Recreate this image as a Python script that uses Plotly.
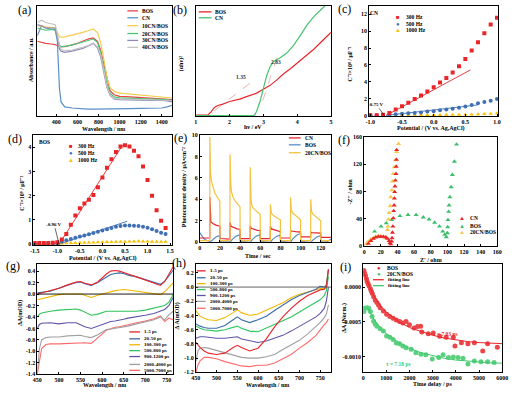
import plotly.graph_objects as go

W, H = 517, 395
FONT = "Liberation Serif"

# ------------------------------------------------------------------ data
# (a) UV-vis absorbance (a.u.)
a_wl = [220, 260, 300, 350, 390, 410, 420, 430, 445, 480, 550, 600, 650, 700, 750,
        790, 820, 850, 880, 910, 950, 1000, 1100, 1200, 1300, 1400, 1450, 1500]
a_names = ["BOS", "CN", "10CN/BOS", "20CN/BOS", "30CN/BOS", "40CN/BOS"]
a_BOS = [68, 67, 66, 65.5, 65, 64, 63.5, 63.2, 63, 63, 64.5, 66, 68, 70, 71,
         68, 60, 47, 33, 23, 19.5, 18, 17.5, 17, 16.5, 16, 15.5, 15]
a_CN = [73, 82, 80, 79, 78, 68, 45, 25, 13, 8.5, 7.5, 7, 6.7, 6.5, 6.5,
        6.5, 6.5, 6.5, 6.5, 6.5, 6.5, 6.6, 7, 7.2, 7.3, 7.5, 8.5, 10]
a_10 = [82, 82, 81, 80.5, 80, 76, 73, 72, 71.8, 72, 73.5, 74.5, 76, 77.5, 79,
        76, 67, 52, 35, 26, 22.5, 21, 20, 19, 18.3, 17.5, 17, 16.7]
a_20 = [80, 79, 78, 78.5, 79, 72, 67, 64.5, 63, 63.3, 64.5, 66, 67.5, 68.7, 70,
        67, 58, 44, 30, 21, 17.5, 16.7, 16.3, 16, 15.8, 15.5, 15, 14]
a_30 = [83, 82, 80, 80, 80, 72, 66, 61, 59, 58, 59, 60, 61.5, 63.5, 66,
        62, 54, 40, 26, 19, 15.5, 15, 14.6, 14.5, 14.4, 14.3, 14, 13]
a_40 = [85, 87, 85, 84, 83, 75, 69, 64, 60.5, 59.5, 60, 61, 62.5, 64, 66.4,
        63, 56, 42, 27, 19.6, 16, 15.7, 15.5, 15.5, 15.3, 15, 14.7, 14.3]
a_colors = ["#E84545", "#5B8FC8", "#F7CB4D", "#4CC477", "#8E88B8", "#C4C4C4"]

# (b) Tauc plot
b_BOS_x = [1.0, 1.35, 1.45, 1.55, 1.65, 1.8, 2.0, 2.3, 2.5, 2.8, 3.0, 3.2, 3.4, 3.5,
           3.6, 3.8, 4.0, 4.2, 4.5, 4.8, 5.0]
b_BOS_y = [1, 1, 4, 8, 9.8, 11, 13.4, 15.5, 17.8, 21, 24.5, 28, 33, 36,
           38.5, 43, 48, 53, 61, 70, 76]
b_CN_x = [1.0, 2.7, 2.75, 2.8, 2.9, 3.0, 3.1, 3.2, 3.3, 3.4, 3.5, 3.7, 3.9, 4.1,
          4.3, 4.5, 4.7, 4.82]
b_CN_y = [0.6, 0.6, 1.5, 4.5, 13.4, 25, 37, 45, 49.5, 51.5, 53, 57.5, 64.5, 73.5,
          83, 90.5, 96.5, 100]
b_tan_BOS_x = [1.55, 2.6]
b_tan_BOS_y = [5, 30]
b_tan_CN_x = [2.98, 3.42]
b_tan_CN_y = [14, 55]
b_gaps = ["1.35", "2.83"]

# (c) Mott-Schottky CN
c_pot = [-1.0, -0.9, -0.8, -0.7, -0.6, -0.5, -0.4, -0.3, -0.2, -0.1, 0.0,
         0.1, 0.2, 0.3, 0.4, 0.5, 0.6, 0.7, 0.8, 0.9, 1.0]
c_300 = [0.02, 0.03, 0.08, 0.3, 0.7, 1.1, 1.5, 1.95, 2.35, 2.85, 3.35,
         3.9, 4.45, 5.1, 5.85, 6.7, 7.7, 8.7, 9.75, 10.8, 11.6]
c_500 = [0.02, 0.03, 0.05, 0.1, 0.15, 0.2, 0.25, 0.3, 0.35, 0.45, 0.5,
         0.6, 0.7, 0.8, 0.9, 1.05, 1.25, 1.45, 1.6, 1.75, 1.95]
c_1000 = [0.0, 0.0, 0.01, 0.01, 0.02, 0.02, 0.03, 0.03, 0.04, 0.04, 0.05,
          0.06, 0.07, 0.08, 0.09, 0.1, 0.12, 0.15, 0.18, 0.21, 0.25]
c_fit300_x = [-0.75, 0.58]
c_fit300_y = [0.0, 5.4]
c_fit500_x = [-0.75, 0.7]
c_fit500_y = [0.0, 1.25]
c_freqs = ["300 Hz", "500 Hz", "1000 Hz"]

# (d) Mott-Schottky BOS
d_pot = [-1.5, -1.4, -1.3, -1.2, -1.1, -1.0, -0.9, -0.8, -0.7, -0.6, -0.5, -0.4, -0.3,
         -0.2, -0.1, 0.0, 0.1, 0.2, 0.3, 0.4, 0.5, 0.6, 0.7, 0.8, 0.9, 1.0, 1.1,
         1.2, 1.3, 1.4]
d_300 = [0.05, 0.05, 0.05, 0.05, 0.06, 0.08, 0.2, 0.42, 0.8, 1.18, 1.48, 1.68, 1.83,
         2.03, 2.35, 2.75, 3.15, 3.5, 3.8, 4.03, 4.08, 4.03, 3.85, 3.62, 3.2, 2.65, 2.0,
         1.4, 0.97, 0.67]
d_500 = [0.02, 0.02, 0.02, 0.02, 0.03, 0.04, 0.1, 0.17, 0.22, 0.27, 0.32, 0.36, 0.41,
         0.46, 0.52, 0.57, 0.62, 0.67, 0.72, 0.75, 0.77, 0.77, 0.76, 0.75, 0.72, 0.68, 0.62,
         0.55, 0.48, 0.42]
d_1000 = [0.02, 0.02, 0.02, 0.02, 0.02, 0.02, 0.03, 0.04, 0.05, 0.05, 0.06, 0.06, 0.07,
          0.07, 0.08, 0.08, 0.09, 0.09, 0.1, 0.1, 0.1, 0.11, 0.11, 0.12, 0.11, 0.11, 0.1,
          0.1, 0.1, 0.1]
d_fit300_x = [-0.96, 0.45]
d_fit300_y = [0.0, 4.09]
d_fit500_x = [-0.96, 0.55]
d_fit500_y = [0.0, 0.95]

# (e) photocurrent
e_CN_t = [0, 9.9, 10, 10.3, 11, 13, 16, 19.9, 20, 29.9, 30, 31, 34, 37, 39.9, 40, 49.9,
          50, 51, 54, 57, 59.9, 60, 69.9, 70, 71, 74, 77, 79.9, 80, 89.9, 90, 91, 95,
          99.9, 100, 109.9, 110, 111, 115, 119.9, 120, 130]
e_CN_v = [0.4, 0.4, 4.2, 2.4, 1.9, 1.75, 1.6, 1.5, 0.35, 0.3, 1.85, 1.5, 1.35, 1.25, 1.2,
          0.35, 0.35, 1.55, 1.3, 1.2, 1.12, 1.1, 0.35, 0.35, 1.5, 1.25, 1.15, 1.05, 1.0,
          0.4, 0.4, 1.1, 1.05, 1.0, 0.95, 0.5, 0.5, 0.95, 0.9, 0.88, 0.85, 0.45, 0.45]
e_BOS_t = [0, 2, 4, 6, 9.9, 10, 12, 14, 16, 18, 19.9, 20, 22, 29.9, 30, 32, 34, 36, 38,
           39.9, 40, 49.9, 50, 52, 54, 56, 58, 59.9, 60, 69.9, 70, 72, 74, 76, 78, 79.9,
           80, 89.9, 90, 92, 94, 96, 98, 99.9, 100, 109.9, 110, 112, 114, 116, 118,
           119.9, 120, 126, 128, 130]
e_BOS_v = [0.9, 0.6, 0.35, 0.2, 0.1, 0.0, 0.2, 0.38, 0.5, 0.57, 0.6, 0.1, 0.05, 0.05,
           0.0, 0.25, 0.45, 0.58, 0.65, 0.7, 0.1, 0.05, 0.0, 0.25, 0.45, 0.58, 0.65, 0.7,
           0.1, 0.05, 0.0, 0.25, 0.42, 0.55, 0.62, 0.65, 0.1, 0.05, 0.0, 0.3, 0.5, 0.65,
           0.75, 0.8, 0.1, 0.05, 0.0, 0.2, 0.38, 0.5, 0.55, 0.6, 0.05, 0.05, 0.15, 0.3]
e_CB_t = [0, 9.9, 10, 10.3, 10.7, 11.5, 13, 15, 17.5, 19.9, 20, 29.9, 30, 30.3, 30.8,
          31.5, 33, 35, 37.5, 39.9, 40, 49.9, 50, 50.3, 50.8, 51.5, 53, 55, 57.5, 59.9,
          60, 69.9, 70, 70.4, 71, 73, 76, 79.9, 80, 89.9, 90, 90.3, 90.8, 92, 95, 97.5,
          99.9, 100, 109.9, 110, 110.3, 110.8, 112, 115, 117.5, 119.9, 120, 130]
e_CB_v = [0.15, 0.15, 9.8, 7.8, 6.5, 5.7, 5.1, 4.6, 4.2, 3.8, 0.15, 0.15, 8.2, 6.3, 5.3,
          4.7, 4.2, 3.85, 3.55, 3.3, 0.15, 0.15, 7.0, 5.0, 4.0, 3.5, 3.2, 3.0, 2.8, 2.6,
          0.15, 0.15, 3.55, 3.0, 2.7, 2.5, 2.3, 2.1, 0.15, 0.15, 4.2, 3.4, 3.0, 2.75, 2.5,
          2.3, 2.1, 0.15, 0.15, 4.0, 3.3, 2.9, 2.65, 2.4, 2.25, 2.0, 0.15, 0.15]

# (f) Nyquist
f_CN_x = [5, 8, 11, 14, 17, 20, 23, 26, 28, 30, 31, 32, 33, 33.5, 34, 34.5, 35, 35.5,
          36, 36.3, 36.7, 37, 37.5, 38.2]
f_CN_y = [4, 8, 11, 13, 14, 14, 14, 13, 11, 8, 5, 3, 7, 12, 20, 29, 41, 51.6,
          60, 69.9, 79.5, 87.7, 96.4, 106]
f_CN_x2 = [38.5, 38.8, 39]
f_CN_y2 = [116.6, 126.7, 141]
f_BOS_x = [12.5, 20.3, 26.5, 33, 43, 52.7, 62.4, 71, 78, 84.7, 90.5, 94.4, 96.8, 98.7,
           100, 100.4, 100.7, 101.5, 102, 103, 104.6, 106, 108.5, 111]
f_BOS_y = [21.7, 29, 33.7, 38.5, 44.3, 46, 45.8, 42.4, 39.5, 34.7, 29, 21.7, 16.9, 13.5,
           19.3, 28, 38.5, 50.6, 60, 72, 86.7, 104.6, 124, 149]
f_CB_x = [2, 5, 8, 11, 14, 17, 20, 23, 25, 27.3, 28, 28.5, 29.3, 30, 31.2, 32, 33.2,
          34, 35, 36, 37.5, 39, 41.4]
f_CB_y = [3, 7, 10, 12, 14, 15, 15, 14, 13, 12, 24, 29, 39.5, 49, 58.8, 72, 82,
          95, 106, 115.7, 126, 138, 150]
f_names = ["CN", "BOS", "20CN/BOS"]

# (g) TA spectra BOS
g_wl = [450, 455, 460, 470, 480, 500, 520, 540, 550, 560, 575, 590, 600, 610, 620,
        630, 640, 650, 660, 680, 700, 720, 735, 745, 755, 765]
g_1 = [0.0, 0.01, 0.02, 0.03, 0.05, 0.1, 0.16, 0.21, 0.22, 0.19, 0.16, 0.21, 0.28, 0.35,
       0.4, 0.41, 0.4, 0.38, 0.35, 0.3, 0.25, 0.19, 0.15, 0.22, 0.36, 0.48]
g_2 = [0.02, 0.02, 0.03, 0.04, 0.05, 0.1, 0.15, 0.2, 0.21, 0.18, 0.15, 0.2, 0.25, 0.3,
       0.34, 0.36, 0.37, 0.36, 0.33, 0.3, 0.25, 0.2, 0.17, 0.22, 0.32, 0.42]
g_3 = [-0.1, -0.09, -0.08, -0.06, -0.04, -0.01, 0.0, 0.0, 0.0, -0.02, -0.06, -0.02, 0.0,
       0.03, 0.05, 0.06, 0.07, 0.08, 0.07, 0.05, 0.03, 0.01, -0.01, 0.04, 0.12, 0.2]
g_4 = [-0.4, -0.35, -0.33, -0.31, -0.3, -0.28, -0.27, -0.26, -0.28, -0.32, -0.37, -0.35,
       -0.33, -0.3, -0.3, -0.3, -0.3, -0.3, -0.31, -0.3, -0.28, -0.25, -0.22, -0.2, -0.14, 0.0]
g_5 = [-0.6, -0.53, -0.51, -0.5, -0.5, -0.52, -0.5, -0.5, -0.53, -0.57, -0.6, -0.56, -0.53,
       -0.5, -0.48, -0.47, -0.46, -0.44, -0.42, -0.4, -0.37, -0.34, -0.3, -0.27, -0.2, -0.05]
g_6 = [-1.4, -0.95, -0.8, -0.76, -0.75, -0.75, -0.73, -0.72, -0.72, -0.74, -0.76, -0.71,
       -0.67, -0.62, -0.61, -0.6, -0.59, -0.58, -0.56, -0.52, -0.49, -0.45, -0.4, -0.45,
       -0.36, -0.3]
g_7 = [-1.4, -1.15, -0.95, -0.88, -0.87, -0.87, -0.86, -0.85, -0.85, -0.85, -0.86, -0.77,
       -0.7, -0.63, -0.6, -0.58, -0.57, -0.55, -0.53, -0.5, -0.47, -0.43, -0.38, -0.48,
       -0.42, -0.45]

# (h) TA spectra 20CN/BOS
h_wl = [450, 455, 460, 470, 480, 500, 520, 540, 550, 560, 580, 600, 620, 640, 660, 680,
        700, 720, 740, 750, 760, 765, 770]
h_1 = [-0.78, -0.82, -0.85, -0.9, -0.93, -0.95, -0.93, -0.85, -0.82, -0.85, -0.9, -0.86,
       -0.73, -0.56, -0.42, -0.3, -0.2, -0.12, -0.06, -0.04, -0.03, 0.0, 0.25]
h_2 = [-0.52, -0.54, -0.55, -0.57, -0.58, -0.58, -0.54, -0.46, -0.42, -0.46, -0.5, -0.46,
       -0.41, -0.33, -0.25, -0.18, -0.12, -0.07, -0.03, 0.01, 0.0, 0.03, 0.25]
h_3 = [-0.33, -0.38, -0.41, -0.44, -0.46, -0.47, -0.43, -0.36, -0.32, -0.36, -0.4, -0.38,
       -0.33, -0.28, -0.22, -0.15, -0.1, -0.07, -0.04, -0.02, -0.02, 0.02, 0.25]
h_4 = [-0.55, -0.57, -0.58, -0.6, -0.61, -0.62, -0.6, -0.56, -0.55, -0.58, -0.62, -0.63,
       -0.58, -0.53, -0.48, -0.42, -0.35, -0.28, -0.22, -0.18, -0.12, -0.05, 0.15]
h_5 = [-0.72, -0.71, -0.7, -0.7, -0.71, -0.72, -0.72, -0.71, -0.7, -0.73, -0.76, -0.78,
       -0.76, -0.72, -0.68, -0.62, -0.55, -0.48, -0.42, -0.37, -0.3, -0.2, 0.0]
h_6 = [-1.05, -0.9, -0.86, -0.85, -0.86, -0.89, -0.92, -0.95, -0.97, -0.99, -1.0, -1.0,
       -0.98, -0.95, -0.88, -0.82, -0.75, -0.66, -0.56, -0.5, -0.43, -0.38, -0.25]
h_7 = [-1.2, -1.1, -1.04, -0.99, -0.99, -1.01, -1.05, -1.08, -1.1, -1.11, -1.12, -1.1,
       -1.1, -1.07, -1.01, -0.95, -0.86, -0.78, -0.68, -0.6, -0.53, -0.5, -0.45]
ta_names = ["1-5 ps", "20-50 ps", "100-300 ps", "500-800 ps", "900-1200 ps",
            "2000-4000 ps", "5000-7000 ps"]
ta_colors = ["#E8262A", "#3D6DA8", "#F2B800", "#2FC55E", "#5D55A8", "#A0A0A0", "#FF6B6B"]

# (i) kinetics (values in 1e-4 units)
i_BOS_t = [28, 56, 98, 140, 169, 211, 253, 309, 351, 393, 450, 520, 590, 660, 730, 870,
           1010, 1150, 1290, 1430, 1570, 1710, 1850, 1995, 2200, 2345, 2480, 2530, 2810,
           3020, 3300, 3580, 3890, 3960, 4240, 4520, 4800, 5160, 5370, 5790]
i_BOS_v = [2.35, 2.0, 1.64, 1.17, 0.8, 0.47, 0.14, -0.23, -0.6, -0.94, -1.4, -1.88, -2.2,
           -2.58, -2.96, -3.43, -3.9, -4.2, -4.46, -4.7, -4.93, -5.16, -4.93, -5.4, -5.87,
           -5.63, -5.6, -6.43, -6.7, -6.57, -7.04, -7.18, -7.18, -8.45, -7.98, -8.12, -7.98,
           -9.15, -8.12, -8.6]
i_CB_t = [28, 60, 169, 239, 309, 380, 450, 520, 590, 730, 870, 1010, 1150, 1290, 1430,
          1570, 1710, 1850, 2070, 2275, 2490, 2700, 2980, 3260, 3450, 3680, 3890, 4100,
          4310, 4520, 4800, 5080, 5370, 5650]
i_CB_v = [-3.5, -3.05, -2.96, -3.05, -3.5, -4.2, -4.9, -5.3, -5.6, -5.96, -6.3, -7.0,
          -7.2, -7.5, -8.0, -8.1, -8.45, -8.7, -8.9, -9.4, -9.6, -9.7, -10.3, -10.1, -9.7,
          -10.1, -10.0, -10.1, -10.2, -11.0, -10.6, -10.7, -10.7, -10.8]
i_fitB_t = [0, 250, 500, 750, 1000, 1500, 2000, 2500, 3000, 3500, 4000, 4500, 5000, 5500, 6000]
i_fitB_v = [2.3, 0.2, -1.5, -2.7, -3.6, -4.9, -5.8, -6.4, -6.9, -7.3, -7.6, -7.8, -7.95,
            -8.05, -8.1]
i_fitC_t = [200, 500, 750, 1000, 1500, 2000, 2500, 3000, 3500, 4000, 4500, 5000, 5500, 6000]
i_fitC_v = [-3.0, -4.8, -5.9, -6.7, -7.9, -8.8, -9.4, -9.85, -10.2, -10.45, -10.6, -10.75,
            -10.85, -10.9]
i_tau = ["τ = 7.03 ps", "τ = 7.18 ps"]

RED = "#E8262A"
BLUE = "#3F6FB5"
YEL = "#F5C000"
GREEN = "#3DBE6A"

# ------------------------------------------------------------------ layout helpers
def px_x(p):
    return p / W


def px_y(p):
    return 1 - p / H


BOX = {
    1: (33, 171, 3, 115),
    2: (195, 333, 3, 115),
    3: (372, 504, 3, 115),
    4: (29, 171, 134, 246),
    5: (199, 333, 134, 243),
    6: (367, 503, 136, 247),
    7: (33, 172, 265, 377),
    8: (195, 333, 265, 375),
    9: (366, 508, 265, 375),
}

TICKFONT = dict(family=FONT, size=6, color="black", weight="bold")
layout = dict(width=W, height=H, margin=dict(l=0, r=0, t=0, b=0),
              paper_bgcolor="white", plot_bgcolor="white", showlegend=False,
              font=dict(family=FONT, size=6, color="black"))
annotations = []
shapes = []
fig = go.Figure()


def sfx(k):
    return "" if k == 1 else str(k)


def axes(k, xr, yr, xtv=None, xtt=None, ytv=None, ytt=None, yticks=True):
    l, r, t, b = BOX[k]
    common = dict(showline=True, linecolor="black", linewidth=0.8, mirror=True,
                  ticks="inside", ticklen=2, tickwidth=0.7, tickcolor="black",
                  showgrid=False, zeroline=False, tickfont=TICKFONT)
    xa = dict(domain=[px_x(l), px_x(r)], range=xr, anchor="y" + sfx(k), **common)
    if xtv is not None:
        xa.update(tickmode="array", tickvals=xtv, ticktext=xtt)
    ya = dict(domain=[px_y(b), px_y(t)], range=yr, anchor="x" + sfx(k), **common)
    if ytv is not None:
        ya.update(tickmode="array", tickvals=ytv, ticktext=ytt)
    if not yticks:
        ya.update(showticklabels=False, ticks="")
    layout["xaxis" + sfx(k)] = xa
    layout["yaxis" + sfx(k)] = ya


def tr(k, x, y, **kw):
    fig.add_trace(go.Scatter(x=x, y=y, xaxis="x" + sfx(k), yaxis="y" + sfx(k), **kw))


def line(k, x, y, color, width=1.1, dash=None):
    tr(k, x, y, mode="lines", line=dict(color=color, width=width, dash=dash))


def marks(k, x, y, color, symbol, size=4, opacity=1.0):
    tr(k, x, y, mode="markers", opacity=opacity,
       marker=dict(color=color, symbol=symbol, size=size, line=dict(width=0)))


def txt(xp, yp, s, size=6, color="black", bold=True, angle=0, xanchor="center"):
    annotations.append(dict(x=px_x(xp), y=px_y(yp), xref="paper", yref="paper", text=s,
                            showarrow=False, xanchor=xanchor, yanchor="middle",
                            textangle=angle,
                            font=dict(family=FONT, size=size, color=color,
                                      weight="bold" if bold else "normal")))


def leg_line(x0, y, s, color, length=10, size=5.5, width=1.3):
    shapes.append(dict(type="line", xref="paper", yref="paper", x0=px_x(x0), x1=px_x(x0 + length),
                       y0=px_y(y), y1=px_y(y), line=dict(color=color, width=width)))
    txt(x0 + length + 2, y, s, size=size, xanchor="left")


def leg_mark(xc, y, s, color, glyph, size=5.5, gsize=6):
    txt(xc, y, glyph, size=gsize, color=color, bold=False)
    txt(xc + 6, y, s, size=size, xanchor="left")


def panel_label(xp, yp, s):
    txt(xp, yp, s, size=12, bold=False)


# ------------------------------------------------------------------ (a)
axes(1, [220, 1500], [0, 100], xtv=[400, 600, 800, 1000, 1200, 1400],
     xtt=["400", "600", "800", "1000", "1200", "1400"], yticks=False)
for ys, c in zip([a_BOS, a_CN, a_10, a_20, a_30, a_40], a_colors):
    line(1, a_wl, ys, c, width=1.2)
for i, (n, c) in enumerate(zip(a_names, a_colors)):
    leg_line(125, [8, 15, 23, 31, 38, 45][i], n, c, length=11)
txt(26.5, 57, "Absorbance / a.u.", angle=-90)
txt(101, 128, "Wavelength / nm")
panel_label(20, 7, "(a)")

# ------------------------------------------------------------------ (b)
axes(2, [1, 5], [0, 100], xtv=[1, 2, 3, 4, 5], xtt=["1", "2", "3", "4", "5"], yticks=False)
line(2, b_tan_BOS_x, b_tan_BOS_y, "#F2A0A0", width=0.9, dash="dash")
line(2, b_tan_CN_x, b_tan_CN_y, "#E8B0B0", width=0.9, dash="dash")
line(2, b_BOS_x, b_BOS_y, RED, width=1.2)
line(2, b_CN_x, b_CN_y, "#46C46E", width=1.2)
leg_line(198, 9, "BOS", RED, length=13)
leg_line(198, 15, "CN", "#46C46E", length=13)
annotations.append(dict(x=2.33, y=35.6, xref="x2", yref="y2", text=b_gaps[0], showarrow=False,
                        font=dict(family=FONT, size=5.5, color="#333333", weight="bold")))
annotations.append(dict(x=3.36, y=49, xref="x2", yref="y2", text=b_gaps[1], showarrow=False,
                        font=dict(family=FONT, size=5.5, color="#333333", weight="bold")))
txt(180, 62, "(αhν)²", angle=-90)
txt(253, 126, "hν / eV")
panel_label(179, 7, "(b)")

# ------------------------------------------------------------------ (c)
axes(3, [-1.02, 1.02], [-0.1, 13], xtv=[-1, -0.5, 0, 0.5, 1],
     xtt=["-1.0", "-0.5", "0.0", "0.5", "1.0"], ytv=[0, 2, 4, 6, 8, 10, 12],
     ytt=["0", "2", "4", "6", "8", "10", "12"])
line(3, c_fit300_x, c_fit300_y, RED, width=0.9)
line(3, c_fit500_x, c_fit500_y, BLUE, width=0.9)
marks(3, c_pot, c_1000, YEL, "triangle-up", size=4)
marks(3, c_pot, c_500, BLUE, "circle", size=4)
marks(3, c_pot, c_300, RED, "square", size=4)
txt(377, 10, "CN", size=5.5)
leg_mark(402, 14, c_freqs[0], RED, "■")
leg_mark(402, 21, c_freqs[1], BLUE, "●")
leg_mark(402, 27, c_freqs[2], YEL, "▲")
annotations.append(dict(x=-0.78, y=0, xref="x3", yref="y3", text="-0.75 V", showarrow=True,
                        arrowhead=0, arrowwidth=0.6, arrowcolor="black", ax=-8, ay=-11,
                        font=dict(family=FONT, size=5, color="black", weight="bold")))
txt(353, 62, "C⁻²×10⁸ / μF⁻²", angle=-90)
txt(435, 127, "Potential / (V vs. Ag,AgCl)")
panel_label(347, 6, "(c)")

# ------------------------------------------------------------------ (d)
axes(4, [-1.53, 1.55], [-0.04, 4.5], xtv=[-1.5, -1.0, -0.5, 0, 0.5, 1.0, 1.5],
     xtt=["-1.5", "-1.0", "-0.5", "0.0", "0.5", "1.0", "1.5"], ytv=[0, 1, 2, 3, 4],
     ytt=["0", "1", "2", "3", "4"])
line(4, d_fit300_x, d_fit300_y, RED, width=0.9)
line(4, d_fit500_x, d_fit500_y, BLUE, width=0.9)
marks(4, d_pot, d_1000, YEL, "triangle-up", size=4)
marks(4, d_pot, d_500, BLUE, "circle", size=4)
marks(4, d_pot, d_300, RED, "square", size=4)
txt(40, 141, "BOS", size=5.5)
leg_mark(67, 145, c_freqs[0], RED, "■")
leg_mark(67, 152, c_freqs[1], BLUE, "●")
leg_mark(67, 159, c_freqs[2], YEL, "▲")
annotations.append(dict(x=-0.96, y=0, xref="x4", yref="y4", text="-0.96 V", showarrow=True,
                        arrowhead=0, arrowwidth=0.6, arrowcolor="black", ax=-5, ay=-20,
                        font=dict(family=FONT, size=5, color="black", weight="bold")))
txt(17, 193, "C⁻²×10⁹ / μF⁻²", angle=-90)
txt(100, 259, "Potential / (V vs. Ag,AgCl)")
panel_label(10, 138, "(d)")

# ------------------------------------------------------------------ (e)
axes(5, [0, 130], [0, 10], xtv=[0, 20, 40, 60, 80, 100, 120],
     xtt=["0", "20", "40", "60", "80", "100", "120"], ytv=[0, 2, 4, 6, 8, 10],
     ytt=["0", "2", "4", "6", "8", "10"])
line(5, e_BOS_t, e_BOS_v, "#5B8FC8", width=1.2)
line(5, e_CN_t, e_CN_v, RED, width=1.2)
line(5, e_CB_t, e_CB_v, "#F5C242", width=1.2)
leg_line(290, 137, "CN", RED, length=12)
leg_line(290, 144, "BOS", "#5B8FC8", length=12)
leg_line(290, 152, "20CN/BOS", "#F5C242", length=12)
txt(183, 187, "Photocurrent density / μA•cm⁻²", angle=-90)
txt(258, 257, "Time / sec")
panel_label(179, 137, "(e)")

# ------------------------------------------------------------------ (f)
axes(6, [0, 160], [0, 160], xtv=[0, 20, 40, 60, 80, 100, 120, 140, 160],
     xtt=["0", "20", "40", "60", "80", "100", "120", "140", "160"],
     ytv=[0, 40, 80, 120, 160], ytt=["0", "40", "80", "120", "160"])
marks(6, f_BOS_x, f_BOS_y, "#3DBE6A", "triangle-up", size=4.5)
marks(6, f_CB_x, f_CB_y, "#F7C948", "triangle-up", size=4.5)
marks(6, f_CN_x, f_CN_y, RED, "triangle-up", size=4.5)
marks(6, f_CN_x2, f_CN_y2, RED, "triangle-up", size=4.5)
leg_mark(467, 218, f_names[0], RED, "▲")
leg_mark(467, 226, f_names[1], "#3DBE6A", "▲")
leg_mark(467, 233, f_names[2], "#F7C948", "▲")
txt(353, 192, "-Z'' / ohm", angle=-90)
txt(435, 261, "Z' / ohm")
panel_label(346, 139, "(f)")

# ------------------------------------------------------------------ (g)
axes(7, [450, 765], [-1.4, 0.525], xtv=[450, 500, 550, 600, 650, 700, 750],
     xtt=["450", "500", "550", "600", "650", "700", "750"],
     ytv=[-1.4, -1.2, -1.0, -0.8, -0.6, -0.4, -0.2, 0.0, 0.2, 0.4],
     ytt=["-1.4", "-1.2", "-1.0", "-0.8", "-0.6", "-0.4", "-0.2", "0.0", "0.2", "0.4"])
shapes.append(dict(type="line", xref="x7 domain", yref="y7", x0=0, x1=1, y0=0, y1=0,
                   line=dict(color="black", width=0.9)))
for ys, c in zip([g_7, g_6, g_5, g_4, g_3, g_2, g_1], ta_colors[::-1]):
    line(7, g_wl, ys, c, width=1.1)
for i, (n, c) in enumerate(zip(ta_names, ta_colors)):
    leg_line(127, [334, 341, 347, 353, 359, 367, 373][i], n, c, length=11, size=5)
txt(16, 315, "ΔA(mOD)", angle=-90)
txt(102, 388, "Wavelength / nm")
panel_label(8, 267, "(g)")

# ------------------------------------------------------------------ (h)
axes(8, [450, 776], [-1.2, 0.325], xtv=[450, 500, 550, 600, 650, 700, 750],
     xtt=["450", "500", "550", "600", "650", "700", "750"],
     ytv=[-1.2, -1.0, -0.8, -0.6, -0.4, -0.2, 0.0, 0.2],
     ytt=["-1.2", "-1.0", "-0.8", "-0.6", "-0.4", "-0.2", "0.0", "0.2"])
shapes.append(dict(type="line", xref="x8 domain", yref="y8", x0=0, x1=1, y0=0, y1=0,
                   line=dict(color="#555555", width=0.9)))
for ys, c in zip([h_7, h_6, h_5, h_4, h_3, h_2, h_1], ta_colors[::-1]):
    line(8, h_wl, ys, c, width=1.1)
for i, (n, c) in enumerate(zip(ta_names, ta_colors)):
    leg_line(196, [272, 279, 285, 291, 297, 303, 310][i], n, c, length=9, size=5)
txt(176, 318, "Δ A(mOD)", angle=-90)
txt(268, 388, "Wavelength / nm")
panel_label(178, 264, "(h)")

# ------------------------------------------------------------------ (i)
axes(9, [0, 6000], [-0.00122, 0.00033], xtv=[0, 1000, 2000, 3000, 4000, 5000, 6000],
     xtt=["0", "1000", "2000", "3000", "4000", "5000", "6000"],
     ytv=[0, -0.0005, -0.0010], ytt=["0.0000", "-0.0005", "-0.0010"])
marks(9, i_CB_t, [v * 1e-4 for v in i_CB_v], "#3FC86A", "circle", size=5, opacity=0.85)
marks(9, i_BOS_t, [v * 1e-4 for v in i_BOS_v], RED, "circle", size=5, opacity=0.85)
line(9, i_fitB_t, [v * 1e-4 for v in i_fitB_v], RED, width=1.0)
line(9, i_fitC_t, [v * 1e-4 for v in i_fitC_v], "#3FC86A", width=1.0)
leg_mark(382, 269, "BOS", RED, "●")
leg_mark(382, 275, "20CN/BOS", "#3FC86A", "●")
leg_line(376, 281, "fitting line", RED, length=11, size=5)
leg_line(376, 287, "fitting line", "#3FC86A", length=11, size=5)
txt(450, 336, i_tau[0], size=5.5, color=RED)
txt(402, 367, i_tau[1], size=5.5, color="#3FC86A")
txt(347, 320, "ΔA (Norm.)", angle=-90)
txt(437, 387, "Time delay / ps")
panel_label(348, 268, "(i)")

layout["annotations"] = annotations
layout["shapes"] = shapes
fig.update_layout(**layout)
fig.write_html("out.html", config={"displayModeBar": False},
               post_script="document.body.style.margin='0';")
